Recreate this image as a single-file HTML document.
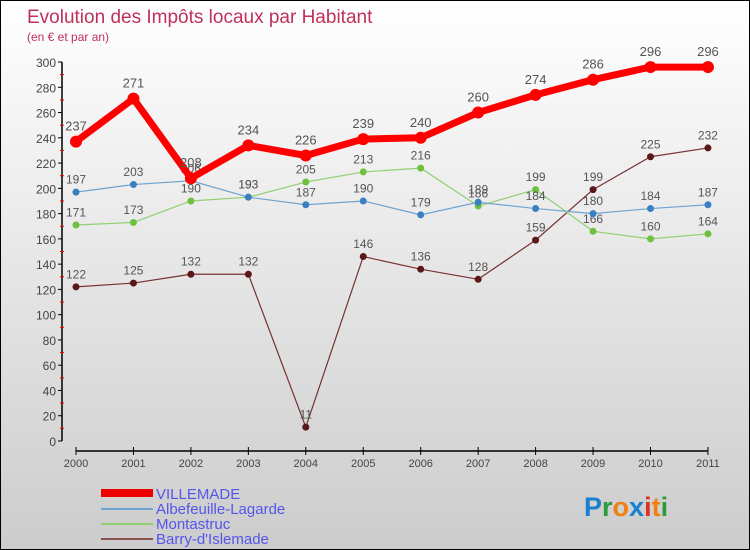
<!DOCTYPE html>
<html><head><meta charset="utf-8"><style>
body{margin:0}
#c{width:750px;height:550px;position:relative;box-sizing:border-box;border:1px solid #000;background:linear-gradient(#fff,#ccc);font-family:"Liberation Sans",sans-serif;overflow:hidden}
svg{position:absolute;left:0;top:0}
</style></head><body>
<div id="c">
<svg id="s" width="750" height="550">
<text x="26" y="22" font-size="19" fill="#c0305a">Evolution des Impôts locaux par Habitant</text>
<text x="26" y="40" font-size="12" fill="#c0305a">(en € et par an)</text>
<g id="ax"></g><g id="marks"></g>
<g>
<rect x="100" y="488" width="52" height="8" fill="#e00"/>
<text x="155" y="498" font-size="15" fill="#55e">VILLEMADE</text>
<line x1="100" y1="508" x2="152" y2="508" stroke="#6fa4d0" stroke-width="2"/>
<text x="155" y="513" font-size="15" fill="#55e">Albefeuille-Lagarde</text>
<line x1="100" y1="523" x2="152" y2="523" stroke="#90d070" stroke-width="2"/>
<text x="155" y="528" font-size="15" fill="#55e">Montastruc</text>
<line x1="100" y1="538" x2="152" y2="538" stroke="#8a5050" stroke-width="2"/>
<text x="155" y="543" font-size="15" fill="#55e">Barry-d'Islemade</text>
</g>
<text x="583" y="515" font-size="27" font-weight="bold"><tspan fill="#1a7fd0">P</tspan><tspan fill="#2a9a3a">r</tspan><tspan fill="#f08010">o</tspan><tspan fill="#1a7fd0">x</tspan><tspan fill="#e03020">i</tspan><tspan fill="#f08010">t</tspan><tspan fill="#2a9a3a">i</tspan></text>
</svg></div>
<script>
const years=["2000","2001","2002","2003","2004","2005","2006","2007","2008","2009","2010","2011"];
const yTicks=[0,20,40,60,80,100,120,140,160,180,200,220,240,260,280,300];
const villemade=[237,271,208,234,226,239,240,260,274,286,296,296];
const albefeuille=[197,203,206,193,187,190,179,189,184,180,184,187];
const montastruc=[171,173,190,193,205,213,216,186,199,166,160,164];
const barry=[122,125,132,132,11,146,136,128,159,199,225,232];
const NS="http://www.w3.org/2000/svg";
const X=i=>75+i*57.45, Y=v=>440-v*1.2633;
function mk(t,a,p){const e=document.createElementNS(NS,t);for(const k in a)e.setAttribute(k,a[k]);p.appendChild(e);return e;}
const ax=document.getElementById('ax'),mg=document.getElementById('marks');
const ya=mk('line',{x1:61,y1:Y(300),x2:61,y2:440,stroke:'#000','stroke-width':1.5},ax);


yTicks.forEach(v=>{
 mk('line',{x1:57,x2:61,y1:Y(v),y2:Y(v),stroke:'#000'},ax);
 if(v<300) mk('line',{x1:59,x2:63,y1:Y(v+10),y2:Y(v+10),stroke:'#e00'},ax);
 const t=mk('text',{x:55,y:Y(v)+5,'text-anchor':'end','font-size':12,fill:'#444'},ax);t.textContent=v;
 
 
});
const xa=mk('line',{x1:75,y1:450,x2:X(11),y2:450,stroke:'#000','stroke-width':1.5},ax);


years.forEach((y,i)=>{
 mk('line',{x1:X(i),x2:X(i),y1:446,y2:454,stroke:'#000'},ax);
 const t=mk('text',{x:X(i),y:466,'text-anchor':'middle','font-size':11,fill:'#444'},ax);t.textContent=y;
 
 
});
function series(d,name,col,w,r,dot,fs){
 const g=mk('g',{},mg);
 
 
 const p=mk('polyline',{points:d.map((v,i)=>X(i)+','+Y(v)).join(' '),fill:'none',stroke:col,'stroke-width':w,'stroke-linejoin':'round'},g);
 
 
 d.forEach((v,i)=>{
  const c=mk('circle',{cx:X(i),cy:Y(v),r:r,fill:dot},g);
  
  
  const t=mk('text',{x:X(i),y:Y(v)-(r+5),'text-anchor':'middle','font-size':fs,fill:'#555'},g);t.textContent=v;
  
  
 });
}
series(barry,'barry','#7a3030',1.2,3.5,'#5a1818',12);
series(montastruc,'montastruc','#90d070',1.2,3.5,'#70c040',12);
series(albefeuille,'albefeuille','#6fa4d0',1.2,3.5,'#3a80c0',12);
series(villemade,'villemade','#f00',7,6,'#f00',13);
</script>
</body></html>
